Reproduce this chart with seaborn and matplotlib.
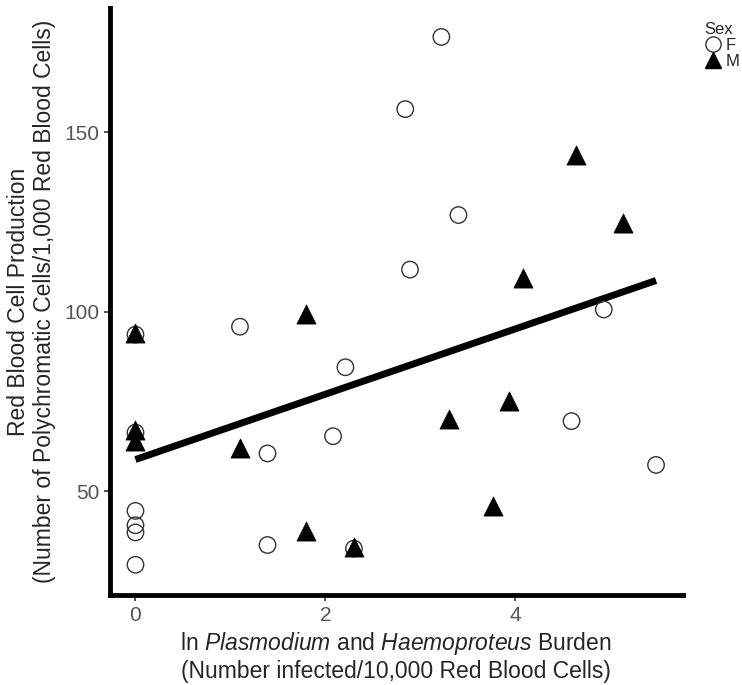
import seaborn as sns
from matplotlib import pyplot as plt
from matplotlib.lines import Line2D
import pandas as pd

# Females (open circles)
f_burden = [3.22, 2.84, 3.40, 2.89, 0.0, 1.10, 2.21, 4.93, 0.0, 2.08, 1.39, 4.59, 5.48,
            0.0, 0.0, 0.0, 1.39, 2.30, 0.0]
f_rbc = [176.5, 156.4, 126.9, 111.7, 93.6, 95.8, 84.5, 100.6, 66.3, 65.3, 60.5, 69.5, 57.3,
         44.5, 40.5, 38.5, 35.0, 34.0, 29.5]

# Males (filled triangles)
m_burden = [4.64, 5.13, 4.08, 1.79, 0.0, 0.0, 0.0, 1.10, 3.30, 3.93, 3.76, 1.79, 2.30]
m_rbc = [143.6, 124.7, 109.4, 99.4, 94.0, 67.0, 64.0, 62.0, 70.0, 75.0, 46.0, 38.8, 34.5]

df = pd.DataFrame({
    'burden': f_burden + m_burden,
    'rbc': f_rbc + m_rbc,
    'sex': ['F'] * len(f_burden) + ['M'] * len(m_burden),
})

sns.set_style("white")
plt.rcParams['font.family'] = ['Liberation Sans', 'DejaVu Sans']
plt.rcParams['mathtext.fontset'] = 'custom'
plt.rcParams['mathtext.rm'] = 'Liberation Sans'
plt.rcParams['mathtext.it'] = 'Liberation Sans:italic'

fig = plt.figure(figsize=(7.42, 6.85), dpi=100)
ax = fig.add_axes([0.148, 0.131, 0.772, 0.857])

fem = df[df.sex == 'F']
mal = df[df.sex == 'M']
sns.scatterplot(x='burden', y='rbc', data=fem, ax=ax, marker='o', s=140,
                facecolor='none', edgecolor='#333333', linewidth=1.0, zorder=3)
sns.scatterplot(x='burden', y='rbc', data=mal, ax=ax, marker='^', s=190,
                color='black', edgecolor='black', linewidth=0.5, zorder=4)
sns.regplot(x='burden', y='rbc', data=df, ax=ax, scatter=False, ci=None,
            line_kws={'color': 'black', 'linewidth': 5, 'solid_capstyle': 'butt'})

ax.set_xlim(-0.27, 5.76)
ax.set_ylim(21, 184.5)
ax.set_xticks([0, 2, 4])
ax.set_yticks([50, 100, 150])
ax.tick_params(axis='both', length=4, width=1.2, color='#333333',
               labelsize=15, labelcolor='#555555', bottom=True, left=True)

sns.despine(ax=ax)
for s in ['left', 'bottom']:
    ax.spines[s].set_linewidth(3.5)
    ax.spines[s].set_color('black')

ax.set_xlabel('ln $\\it{Plasmodium}$ and $\\it{Haemoproteus}$ Burden\n'
              '(Number infected/10,000 Red Blood Cells)', fontsize=16.5, labelpad=4,
              linespacing=1.15)
ax.set_ylabel('Red Blood Cell Production\n'
              '(Number of Polychromatic Cells/1,000 Red Blood Cells)', fontsize=16.5,
              labelpad=6, linespacing=1.15)

handles = [Line2D([], [], marker='o', linestyle='', markerfacecolor='none',
                  markeredgecolor='#333333', markersize=11),
           Line2D([], [], marker='^', linestyle='', color='black', markersize=12)]
leg = fig.legend(handles, ['F', 'M'], title='Sex', loc='upper left',
                 bbox_to_anchor=(0.938, 0.98), frameon=False, fontsize=12,
                 title_fontsize=12, handletextpad=0.3, labelspacing=0.05,
                 borderpad=0, handlelength=1.0)
leg._legend_box.align = 'left'

fig.savefig('out.png', dpi=100)
